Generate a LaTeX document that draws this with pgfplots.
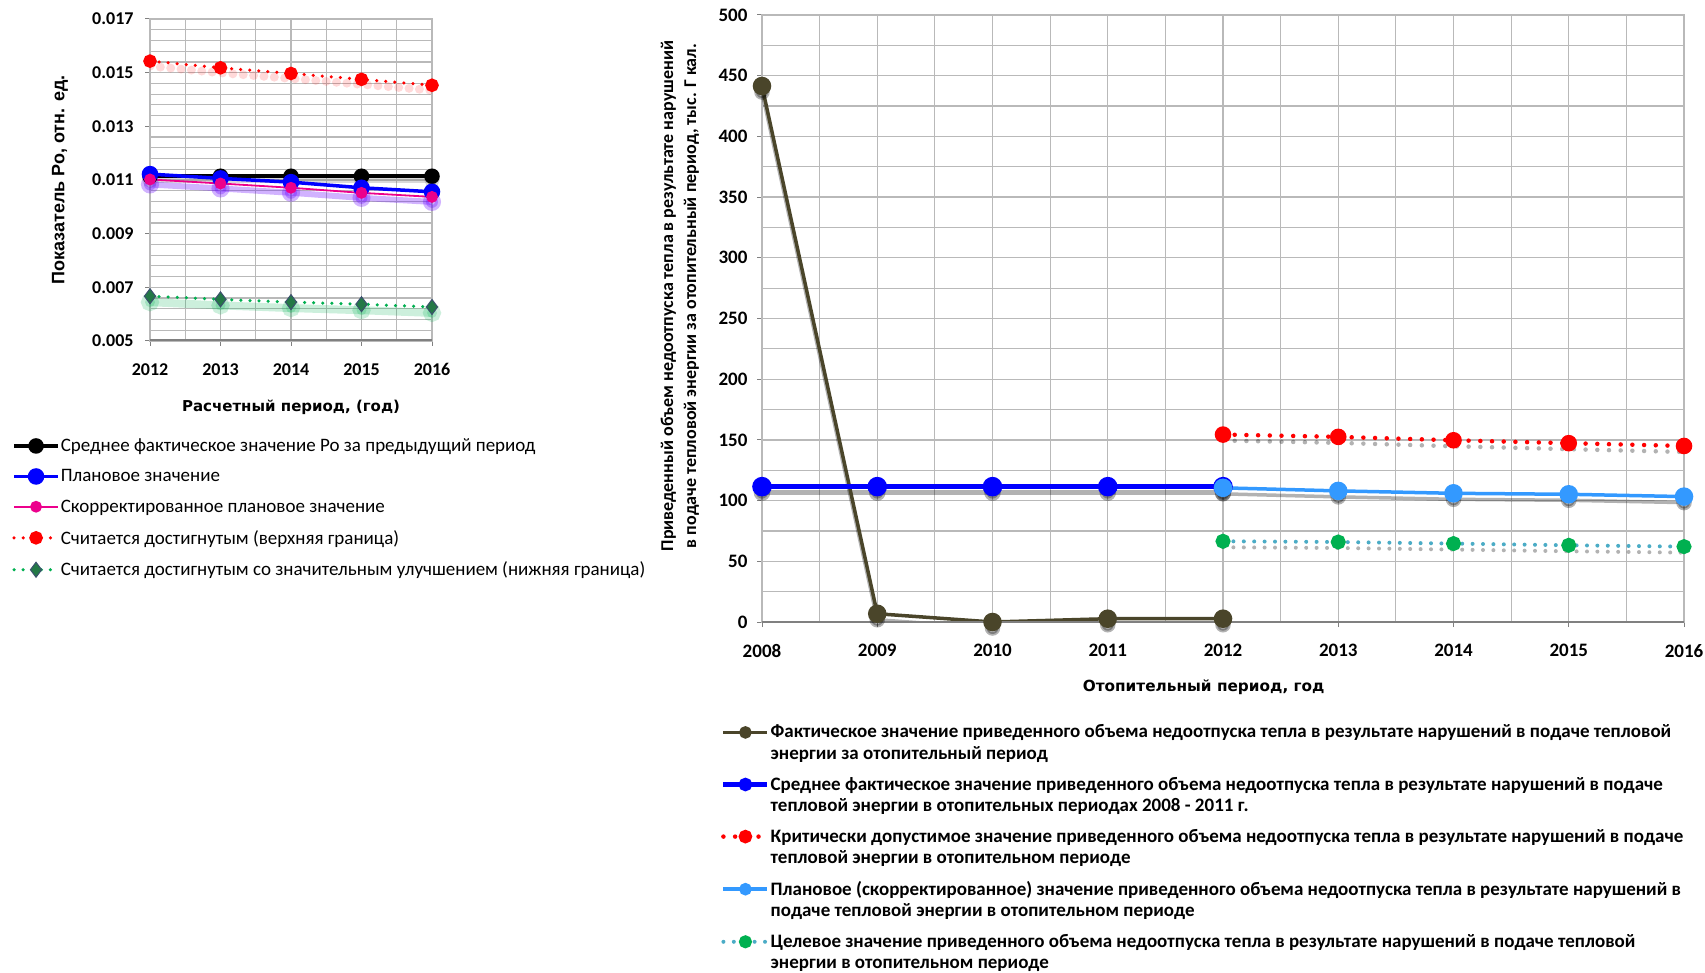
\documentclass[border=0pt]{standalone}
\usepackage{fontspec}
\setmainfont{Carlito}
\newfontfamily\verd{DejaVu Sans}
\newfontfamily\arial{Liberation Sans}
\usepackage{pgfplots}
\usepackage{pgfplotstable}
\pgfplotsset{compat=1.18}

\definecolor{olivec}{RGB}{74,69,42}
\definecolor{lblue}{RGB}{51,153,255}
\definecolor{xgreen}{RGB}{0,176,80}
\definecolor{dgreen}{RGB}{35,120,70}
\definecolor{dborder}{RGB}{60,80,110}
\definecolor{tealc}{RGB}{75,172,198}
\definecolor{gridc}{RGB}{185,185,185}
\definecolor{axc}{RGB}{128,128,128}

\pgfplotstableread{
year black blue magenta red green
2012 0.01114 0.01122 0.01102 0.01543 0.00667
2013 0.01114 0.01106 0.01087 0.01518 0.00655
2014 0.01114 0.01092 0.01071 0.01497 0.00645
2015 0.01114 0.01071 0.01052 0.01475 0.00637
2016 0.01114 0.01056 0.01037 0.01453 0.00627
}\leftdata

\pgfplotstableread{
year fact
2008 441.5
2009 6.8
2010 0
2011 2.7
2012 2.7
}\factdata

\pgfplotstableread{
year avg
2008 111.5
2009 111.5
2010 111.5
2011 111.5
2012 111.5
}\avgdata

\pgfplotstableread{
year crit plan target
2012 154.4 110.5 66.5
2013 152.5 108.0 65.9
2014 149.7 106.0 64.6
2015 147.3 105.2 63.2
2016 145.0 103.3 62.1
}\futdata

\pgfplotsset{
  excelgrid/.style={
    scale only axis,
    grid=both,
    major grid style={gridc, line width=1.2pt},
    minor grid style={gridc, line width=1.2pt},
    axis line style={draw=gridc, line width=1.2pt},
    tick style={draw=axc, line width=1pt},
    major tick length=5pt, minor tick length=0pt,
    tick align=outside,
    xtick pos=lower, ytick pos=left,
    /pgf/number format/assume math mode=true,
    xticklabel style={/pgf/number format/1000 sep={}, yshift=-14pt},
  },
  rdots/.style={line width=#1, dash pattern=on 0pt off 2.6*#1, line cap=round},
  shd/.style={forget plot, draw=#1, opacity=0.3, mark options={solid, draw=#1, fill=#1}},
}

\begin{document}
\begin{tikzpicture}
\useasboundingbox (0,0) rectangle (1705pt,972pt);

% ---------------- left chart ----------------
\begin{axis}[
  excelgrid,
  at={(150pt,631pt)}, anchor=south west,
  width=282pt, height=322pt,
  xmin=2012, xmax=2016, ymin=0.005, ymax=0.017,
  xtick={2012,2013,2014,2015,2016}, minor x tick num=1,
  ytick={0.005,0.007,0.009,0.011,0.013,0.015,0.017}, minor y tick num=4,
  scaled y ticks=false,
  yticklabel style={/pgf/number format/.cd, fixed, fixed zerofill, precision=3, /tikz/.cd, xshift=-8pt},
  ticklabel style={font=\fontsize{18}{21}\selectfont\bfseries},
  xlabel={Расчетный период, (год)},
  xlabel style={font=\verd\fontsize{15}{18}\selectfont\bfseries, at={(axis description cs:0.5,-0.205)}, anchor=center},
  ylabel={Показатель Ро, отн. ед.},
  ylabel style={font=\arial\fontsize{18}{21}\selectfont\bfseries, at={(axis description cs:-0.319,0.5)}, anchor=center},
  legend style={at={(-0.489,-0.30)}, anchor=north west, draw=none, fill=none,
    font=\fontsize{19}{22}\selectfont, row sep=14.5pt, inner sep=0pt, nodes={inner sep=1pt}},
  legend cell align=left,
  legend image code/.code={\draw[mark repeat=2,mark phase=2,#1] plot coordinates {(0pt,0pt) (22pt,0pt) (44pt,0pt)};},
]
% glow shadows
\addplot[shd=gray, line width=5pt, yshift=-4pt, mark=*, mark size=5pt] table[x=year,y=black] {\leftdata};
\addplot[shd=blue!60!magenta, line width=6pt, yshift=-5pt, mark=*, mark size=6pt] table[x=year,y=magenta] {\leftdata};
\addplot[shd=red, rdots=4pt, line width=9pt, yshift=-5pt, opacity=0.15] table[x=year,y=red] {\leftdata};
\addplot[shd=xgreen, line width=8pt, yshift=-6pt, opacity=0.2, mark=*, mark size=5pt] table[x=year,y=green] {\leftdata};

\addplot[black, line width=3.5pt, mark=*, mark size=6pt, mark options={fill=black}] table[x=year,y=black] {\leftdata};
\addlegendentry{Среднее фактическое значение Ро за предыдущий период}
\addplot[blue, line width=3.5pt, mark=*, mark size=6.5pt, mark options={fill=blue}] table[x=year,y=blue] {\leftdata};
\addlegendentry{Плановое значение}
\addplot[magenta, line width=1.8pt, mark=*, mark size=5pt, mark options={fill=magenta}] table[x=year,y=magenta] {\leftdata};
\addlegendentry{Скорректированное плановое значение}
\addplot[red, rdots=3.5pt, mark=*, mark size=5pt, mark options={solid, fill=red}] table[x=year,y=red] {\leftdata};
\addlegendentry{Считается достигнутым (верхняя граница)}
\addplot[xgreen, rdots=3.5pt, mark=diamond*, mark size=7.5pt, mark options={solid, fill=dgreen, draw=dborder, line width=1pt}] table[x=year,y=green] {\leftdata};
\addlegendentry{Считается достигнутым со значительным улучшением (нижняя граница)}
\draw[axc, line width=3.5pt] (rel axis cs:0,0) -- (rel axis cs:1,0);
\end{axis}

% ---------------- right chart ----------------
\begin{axis}[
  excelgrid,
  at={(762pt,350pt)}, anchor=south west,
  width=922pt, height=607pt,
  xmin=2008, xmax=2016, ymin=0, ymax=500,
  xtick={2008,2009,2010,2011,2012,2013,2014,2015,2016}, minor x tick num=1,
  ytick={0,50,100,150,200,250,300,350,400,450,500}, minor y tick num=1,
  yticklabel style={xshift=-6pt},
  ticklabel style={font=\fontsize{19}{22}\selectfont\bfseries},
  xlabel={Отопительный период, год},
  xlabel style={font=\verd\fontsize{15.3}{18}\selectfont\bfseries, at={(axis description cs:0.479,-0.108)}, anchor=center},
  ylabel={Приведенный объем недоотпуска тепла в результате нарушений\\в подаче тепловой энергии за отопительный период, тыс. Г кал.},
  ylabel style={font=\fontsize{18}{23}\selectfont\bfseries, align=center, at={(axis description cs:-0.089,0.537)}, anchor=center},
  legend style={at={(-0.0445,-0.1675)}, anchor=north west, draw=none, fill=none,
    font=\fontsize{19}{21.5}\selectfont\bfseries, row sep=14pt, inner sep=0pt, nodes={inner sep=1pt, align=left}},
  legend cell align=left,
  legend image code/.code={\draw[mark repeat=2,mark phase=2,yshift=10.5pt,#1] plot coordinates {(0pt,0pt) (22pt,0pt) (44pt,0pt)};},
  legend image post style={mark size=4.5pt},
]
% shadows
\addplot[shd=black, line width=3.5pt, yshift=-6pt, mark=*, mark size=6pt] table[x=year,y=fact] {\factdata};
\addplot[shd=black, line width=4.5pt, yshift=-6pt, mark=*, mark size=6pt] table[x=year,y=avg] {\avgdata};
\addplot[shd=black, rdots=4.5pt, yshift=-6pt] table[x=year,y=crit] {\futdata};
\addplot[shd=black, line width=3.5pt, yshift=-6pt, mark=*, mark size=6pt] table[x=year,y=plan] {\futdata};
\addplot[shd=black, rdots=4pt, yshift=-6pt] table[x=year,y=target] {\futdata};

\addplot[olivec, line width=3.5pt, mark=*, mark size=7.5pt, mark options={fill=olivec}] table[x=year,y=fact] {\factdata};
\addlegendentry{Фактическое значение приведенного объема недоотпуска тепла в результате нарушений в подаче тепловой\\энергии за отопительный период}
\addplot[blue, line width=4.5pt, mark=*, mark size=7.5pt, mark options={fill=blue}] table[x=year,y=avg] {\avgdata};
\addlegendentry{Среднее фактическое значение приведенного объема недоотпуска тепла в результате нарушений в подаче\\тепловой энергии в отопительных периодах 2008 - 2011 г.}
\addplot[red, rdots=4.5pt, mark=*, mark size=6pt, mark options={solid, fill=red}] table[x=year,y=crit] {\futdata};
\addlegendentry{Критически допустимое значение приведенного объема недоотпуска тепла в результате нарушений в подаче\\тепловой энергии в отопительном периоде}
\addplot[lblue, line width=3.5pt, mark=*, mark size=7.5pt, mark options={fill=lblue}] table[x=year,y=plan] {\futdata};
\addlegendentry{Плановое (скорректированное) значение приведенного объема недоотпуска тепла в результате нарушений в\\подаче тепловой энергии в отопительном периоде}
\addplot[tealc, rdots=4pt, mark=*, mark size=5.5pt, mark options={solid, fill=xgreen, draw=xgreen}] table[x=year,y=target] {\futdata};
\addlegendentry{Целевое значение приведенного объема недоотпуска тепла в результате нарушений в подаче тепловой\\энергии в отопительном периоде}
\draw[axc, line width=2pt] (rel axis cs:0,0) -- (rel axis cs:1,0);
\end{axis}
\end{tikzpicture}
\end{document}
